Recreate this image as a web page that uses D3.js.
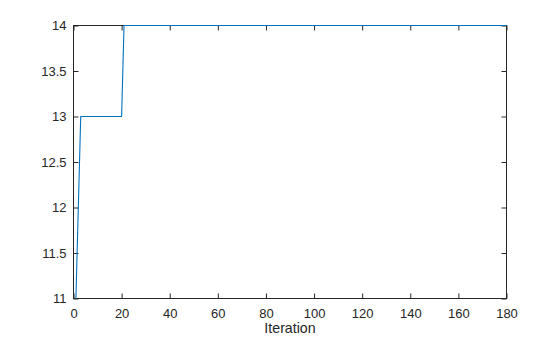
<!DOCTYPE html>
<html>
<head>
<meta charset="utf-8">
<script src="https://cdn.jsdelivr.net/npm/d3@7"></script>
<style>
    body { margin: 0; background: #fff; }
    svg { display: block; }
    .tick text { font-family: "Liberation Sans", Arial, sans-serif; font-size: 13px; fill: #262626; }
    .xlabel { font-family: "Liberation Sans", Arial, sans-serif; font-size: 14.2px; fill: #262626; }
</style>
</head>
<body>
<svg id="chart" width="560" height="337"></svg>
<script>
// breakpoints of the curve (iteration, value)
const iterations = [1, 3, 20, 21, 180];
const values = [11, 13, 13, 14, 14];
const xTicks = [0, 20, 40, 60, 80, 100, 120, 140, 160, 180];
const yTicks = [11, 11.5, 12, 12.5, 13, 13.5, 14];

const svg = d3.select("#chart");
const margin = {left: 73.5, right: 53.5, top: 25.5, bottom: 38.5};
const width = 560 - margin.left - margin.right;
const height = 337 - margin.top - margin.bottom;
const axisColor = "#262626";

const x = d3.scaleLinear().domain([0, 180]).range([0, width]);
const y = d3.scaleLinear().domain([11, 14]).range([height, 0]);

const g = svg.append("g")
    .attr("transform", `translate(${margin.left},${margin.top})`);

function styleAxis(sel) {
    sel.select(".domain").remove();
    sel.selectAll(".tick line").attr("stroke", axisColor);
}

// ticks point inward (matlab style), labels only on bottom/left
g.append("g")
    .attr("transform", `translate(0,${height})`)
    .call(d3.axisBottom(x).tickValues(xTicks).tickSize(-5).tickPadding(10).tickFormat(d3.format("d")))
    .call(styleAxis);

g.append("g")
    .call(d3.axisTop(x).tickValues(xTicks).tickSize(-5).tickFormat(""))
    .call(styleAxis);

g.append("g")
    .call(d3.axisLeft(y).tickValues(yTicks).tickSize(-5).tickPadding(7).tickFormat(d3.format("")))
    .call(styleAxis);

g.append("g")
    .attr("transform", `translate(${width},0)`)
    .call(d3.axisRight(y).tickValues(yTicks).tickSize(-5).tickFormat(""))
    .call(styleAxis);

g.selectAll(".tick text").attr("fill", axisColor);

g.append("rect")
    .attr("width", width)
    .attr("height", height)
    .attr("fill", "none")
    .attr("stroke", axisColor)
    .attr("stroke-width", 1);

const line = d3.line()
    .x((d, i) => x(iterations[i]))
    .y(d => y(d));

// line drawn over the box, as in the original
g.append("path")
    .datum(values)
    .attr("fill", "none")
    .attr("stroke", "#0072BD")
    .attr("stroke-width", 1.1)
    .attr("d", line);

g.append("text")
    .attr("class", "xlabel")
    .attr("x", width / 2)
    .attr("y", height + 34)
    .attr("text-anchor", "middle")
    .text("Iteration");
</script>
</body>
</html>
